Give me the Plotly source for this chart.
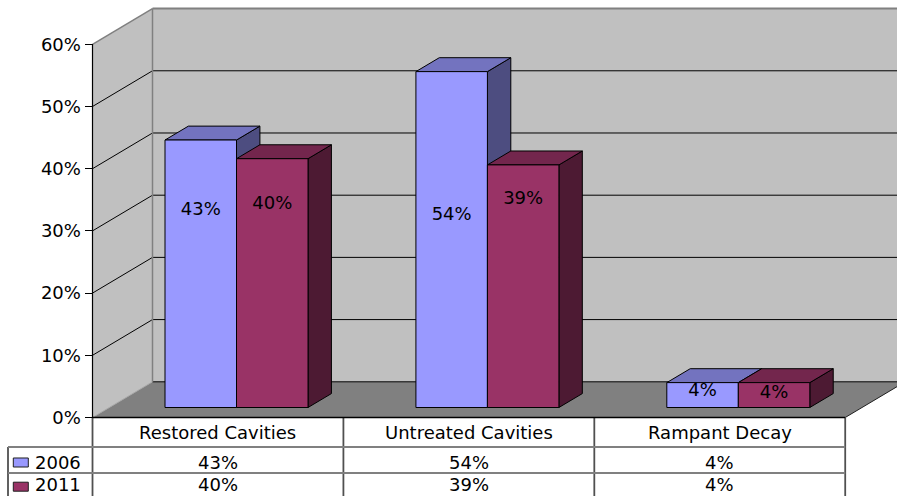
import plotly.graph_objects as go

# ---------------- data ----------------
categories = ["Restored Cavities", "Untreated Cavities", "Rampant Decay"]
series_names = ["2006", "2011"]
values_2006 = [43, 54, 4]
values_2011 = [40, 39, 4]
value_labels_2006 = ["43%", "54%", "4%"]
value_labels_2011 = ["40%", "39%", "4%"]
y_tick_values = [0, 10, 20, 30, 40, 50, 60]
y_tick_labels = ["0%", "10%", "20%", "30%", "40%", "50%", "60%"]

# ---------------- styles / geometry ----------------
FONT = "DejaVu Sans"
FS = 18
front_colors = {"2006": "#9999FF", "2011": "#993366"}
top_colors = {"2006": "#7373BF", "2011": "#73264D"}
side_colors = {"2006": "#4D4D80", "2011": "#4D1A33"}
label_heights = {"2006": [33.2, 32.4, 4.2], "2011": [34.2, 35.0, 3.9]}

XL, XR = -0.5, len(categories) - 0.5
DX, DY = 0.2391, 5.74          # full depth offset (x units, % units)
F1, F2 = 0.28, 0.67            # bar front / back depth fractions
BW = 0.285                     # bar width
GSHIFT = 0.007
YMAX = 60

fig = go.Figure()


def poly(xs, ys, fill, line_color="black", line_width=1.0):
    xs = list(xs) + [xs[0]]
    ys = list(ys) + [ys[0]]
    fig.add_trace(go.Scatter(
        x=xs, y=ys, mode="lines", fill="toself", fillcolor=fill,
        line=dict(color=line_color, width=line_width),
        hoverinfo="skip", showlegend=False))


def seg(x0, y0, x1, y1, color="black", width=1.0):
    fig.add_trace(go.Scatter(
        x=[x0, x1], y=[y0, y1], mode="lines",
        line=dict(color=color, width=width),
        hoverinfo="skip", showlegend=False))


# walls and floor
poly([XL, XL, XL + DX, XL + DX], [0, YMAX, YMAX + DY, DY], "#C0C0C0", "rgba(0,0,0,0)", 0)
poly([XL + DX, XR + DX, XR + DX, XL + DX], [DY, DY, YMAX + DY, YMAX + DY], "#C0C0C0", "rgba(0,0,0,0)", 0)
poly([XL, XR, XR + DX, XL + DX], [0, 0, DY, DY], "#808080", "rgba(0,0,0,0)", 0)

# gridlines
for v in y_tick_values[:-1]:
    if v > 0:
        seg(XL, v, XL + DX, v + DY, "black", 1)
    seg(XL + DX, v + DY, XR + DX, v + DY, "black", 1)
seg(XL, 0, XL + DX, DY, "#A8A8A8", 1)

# wall edges
seg(XL, YMAX, XL + DX, YMAX + DY, "#808080", 1.5)
seg(XL + DX, YMAX + DY, XR + DX + 0.5, YMAX + DY, "#808080", 2)
seg(XL + DX, DY, XL + DX, YMAX + DY, "#808080", 1.5)
seg(XR, 0, XR + DX, DY, "#202020", 1)

# bars (pseudo-3D)
series_vals = {"2006": values_2006, "2011": values_2011}
series_offsets = {"2006": -BW / 2, "2011": BW / 2}
for i in range(len(categories)):
    for s in series_names:
        v = series_vals[s][i]
        c = i + GSHIFT + series_offsets[s]
        a, b = c - BW / 2, c + BW / 2
        # side
        poly([b + F1 * DX, b + F1 * DX, b + F2 * DX, b + F2 * DX],
             [F1 * DY, v + F1 * DY, v + F2 * DY, F2 * DY], side_colors[s])
        # top
        poly([a + F1 * DX, b + F1 * DX, b + F2 * DX, a + F2 * DX],
             [v + F1 * DY, v + F1 * DY, v + F2 * DY, v + F2 * DY], top_colors[s])
        # front
        poly([a + F1 * DX, b + F1 * DX, b + F1 * DX, a + F1 * DX],
             [F1 * DY, F1 * DY, v + F1 * DY, v + F1 * DY], front_colors[s])

# value labels
for s, labs in (("2006", value_labels_2006), ("2011", value_labels_2011)):
    xs = [i + GSHIFT + series_offsets[s] + F1 * DX for i in range(len(categories))]
    fig.add_trace(go.Scatter(
        x=xs, y=label_heights[s], mode="text", text=labs,
        textfont=dict(family=FONT, size=FS, color="black"),
        hoverinfo="skip", showlegend=False))

# front left edge (axis line)
seg(XL, 0, XL, YMAX, "black", 1.2)

# ---------------- data table ----------------
ROW1, ROW2, BOTTOM = -4.74, -8.92, -14.0
XLEG = -0.8368
for xv in [XL + k for k in range(len(categories) + 1)]:
    seg(xv, 0, xv, BOTTOM, "#505050", 1.8)
seg(XLEG, ROW1, XLEG, BOTTOM, "#505050", 1.8)
seg(XLEG, ROW1, XR, ROW1, "#808080", 1.8)
seg(XLEG, ROW2, XR, ROW2, "#808080", 1.8)
seg(XL, 0, XR, 0, "black", 1.5)

annotations = []
HDR_Y, R1_Y, R2_Y = -2.41, -7.23, -10.85
for i, cat in enumerate(categories):
    annotations.append(dict(x=i, y=HDR_Y, text=cat, showarrow=False,
                            font=dict(family=FONT, size=FS, color="black")))
    annotations.append(dict(x=i, y=R1_Y, text=value_labels_2006[i], showarrow=False,
                            font=dict(family=FONT, size=FS, color="black")))
    annotations.append(dict(x=i, y=R2_Y, text=value_labels_2011[i], showarrow=False,
                            font=dict(family=FONT, size=FS, color="black")))

key_x0, key_x1 = -0.8157, -0.7559
for s, yc, (ky0, ky1) in (("2006", R1_Y, (-6.51, -7.96)), ("2011", R2_Y, (-10.4, -11.85))):
    poly([key_x0, key_x1, key_x1, key_x0], [ky0, ky0, ky1, ky1], front_colors[s], "#202020", 1)
    annotations.append(dict(x=-0.7383, y=yc, text=s, showarrow=False, xanchor="left",
                            font=dict(family=FONT, size=FS, color="black")))

fig.update_layout(
    width=897, height=496, autosize=False,
    margin=dict(l=0, r=0, t=0, b=0, pad=0),
    paper_bgcolor="white", plot_bgcolor="white",
    showlegend=False,
    annotations=annotations,
    xaxis=dict(range=[-0.8687, 2.7064], visible=False, fixedrange=True),
    yaxis=dict(range=[-12.62, 67.12], anchor="free", position=92.5 / 897,
               tickvals=y_tick_values, ticktext=y_tick_labels,
               ticks="outside", ticklen=8, tickcolor="black", tickwidth=1,
               showgrid=False, zeroline=False, showline=False,
               tickfont=dict(family=FONT, size=FS, color="black"),
               fixedrange=True),
)

fig.write_html("out.html")
